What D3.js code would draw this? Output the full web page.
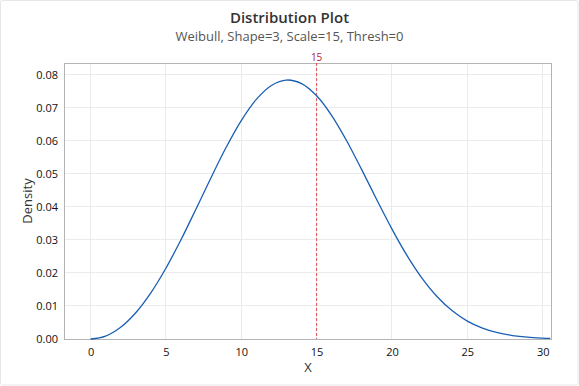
<!DOCTYPE html>
<html><head><meta charset="utf-8">
<script src="https://cdn.jsdelivr.net/npm/d3@7"></script>
<style>
html,body{margin:0;padding:0;background:#fff;}
svg{display:block;font-family:"Segoe UI","Open Sans","Noto Sans",sans-serif;}
</style></head>
<body>
<svg id="chart" width="579" height="386"></svg>
<script>
// Values (density curve samples)
const xValues = [0,1,2,3,4,5,6,7,8,9,10,11,12,13,14,15,16,17,18,19,20,21,22,23,24,25,26,27,28,29,30,30.5];
const densityValues = [0,0.00089,0.00355,0.00794,0.01396,0.02141,0.03002,0.03935,0.04888,0.05801,0.06609,0.07250,0.07671,0.07834,0.07727,0.07358,0.06761,0.05992,0.05116,0.04205,0.03323,0.02521,0.01834,0.01278,0.00852,0.00542,0.00329,0.00190,0.00104,0.00054,0.00027,0.00018];
const xTicks = [0,5,10,15,20,25,30];
const yTicks = [0,0.01,0.02,0.03,0.04,0.05,0.06,0.07,0.08];
const refLineX = 15;
const titleText = "Distribution Plot";
const subtitleText = "Weibull, Shape=3, Scale=15, Thresh=0";

const svg = d3.select("#chart");
const W = 579, H = 386;
const m = {left:64, top:63, right:551, bottom:339};

// outer frame
svg.append("rect").attr("x",0.5).attr("y",0.5).attr("width",W-1.5).attr("height",H-1.5)
  .attr("fill","#fff").attr("stroke","#e6e6e6").attr("rx",2);

const x = d3.scaleLinear().domain([-1.76,30.55]).range([m.left,m.right]);
const y = d3.scaleLinear().domain([0,0.0835]).range([m.bottom,m.top]);

// gridlines
const g = svg.append("g");
g.selectAll(".vg").data(xTicks).join("line")
  .attr("x1",d=>x(d)).attr("x2",d=>x(d)).attr("y1",m.top).attr("y2",m.bottom)
  .attr("stroke","#ebebeb").attr("stroke-width",1).attr("shape-rendering","crispEdges");
g.selectAll(".hg").data(yTicks).join("line")
  .attr("x1",m.left).attr("x2",m.right).attr("y1",d=>y(d)).attr("y2",d=>y(d))
  .attr("stroke","#ebebeb").attr("stroke-width",1).attr("shape-rendering","crispEdges");

// plot frame
svg.append("rect").attr("x",m.left).attr("y",m.top).attr("width",m.right-m.left).attr("height",m.bottom-m.top)
  .attr("fill","none").attr("stroke","#b4b4b4").attr("stroke-width",1).attr("shape-rendering","crispEdges");

// axes
const xAxis = d3.axisBottom(x).tickValues(xTicks).tickSize(0).tickPadding(9).tickFormat(d3.format("d"));
const ya = d3.axisLeft(y).tickValues(yTicks).tickSize(0).tickPadding(6).tickFormat(d3.format(".2f"));
const gx = svg.append("g").attr("transform",`translate(0,${m.bottom})`).call(xAxis);
const gy = svg.append("g").attr("transform",`translate(${m.left},0)`).call(ya);
[gx,gy].forEach(a=>{
  a.select(".domain").remove();
  a.selectAll("text").attr("font-size","11px").attr("fill","#111").attr("font-family",'"Segoe UI","Open Sans","Noto Sans",sans-serif');
});

// reference line
svg.append("line").attr("x1",x(refLineX)).attr("x2",x(refLineX)).attr("y1",m.top).attr("y2",m.bottom)
  .attr("stroke","#e05050").attr("stroke-width",1).attr("stroke-dasharray","3,2");
svg.append("text").attr("x",x(refLineX)).attr("y",61).attr("text-anchor","middle")
  .attr("font-size","10px").attr("fill","#b22222").text(refLineX);

// curve
const pts = xValues.map((d,i)=>[d,densityValues[i]]);
svg.append("path").datum(pts)
  .attr("d",d3.line().x(d=>x(d[0])).y(d=>y(d[1])).curve(d3.curveCatmullRom))
  .attr("fill","none").attr("stroke","#1a5fb4").attr("stroke-width",1.3);

// titles
svg.append("text").attr("x",289.5).attr("y",23).attr("text-anchor","middle")
  .attr("font-size","15px").attr("font-weight","600").attr("fill","#333").text(titleText);
svg.append("text").attr("x",289.5).attr("y",41).attr("text-anchor","middle")
  .attr("font-size","13px").attr("fill","#555").text(subtitleText);

// axis labels
svg.append("text").attr("x",308).attr("y",372).attr("text-anchor","middle")
  .attr("font-size","13px").attr("fill","#333").text("X");
svg.append("text").attr("transform","translate(32,201) rotate(-90)").attr("text-anchor","middle")
  .attr("font-size","13px").attr("fill","#333").text("Density");
</script>
</body></html>
